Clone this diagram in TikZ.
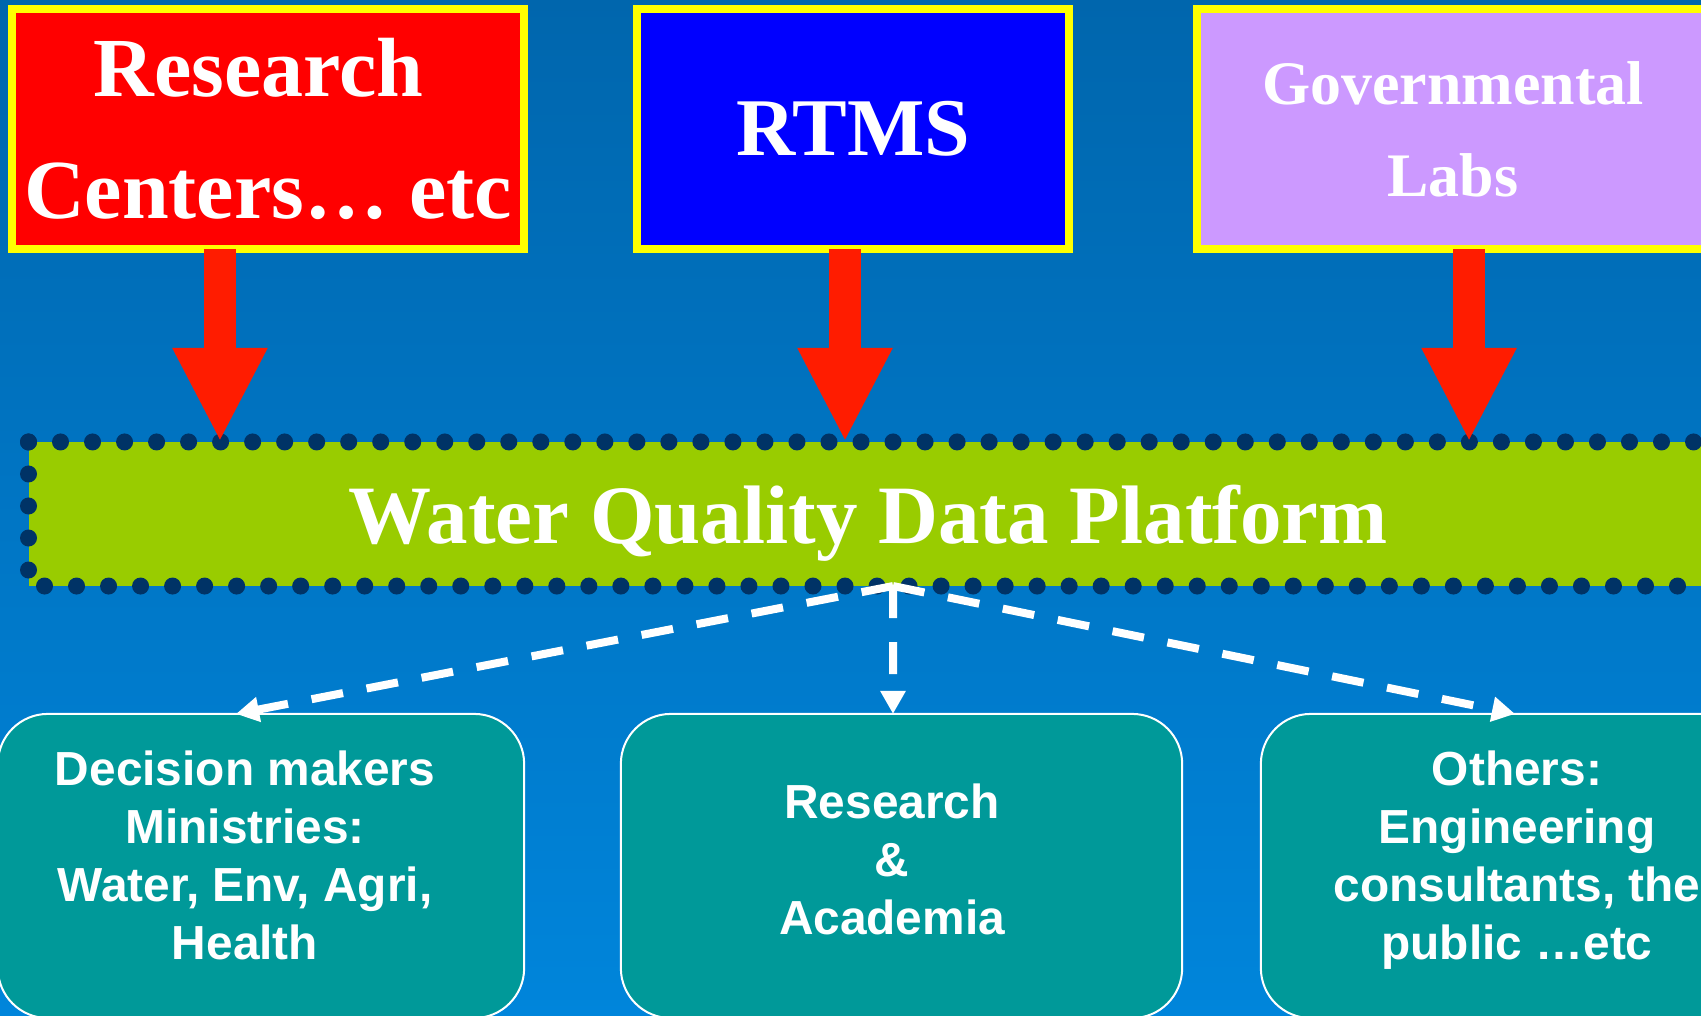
\documentclass[tikz,border=0pt]{standalone}
\usepackage{fontspec}
\setmainfont{Liberation Serif}
\setsansfont{Liberation Sans}
\usepackage{tikz}
\usetikzlibrary{positioning, arrows.meta, calc}

\definecolor{bgtop}{HTML}{0066AD}
\definecolor{bgmid}{HTML}{0069B3}
\definecolor{bgbot}{HTML}{0085DB}
\definecolor{frameyellow}{HTML}{FFFF00}
\definecolor{sourcered}{HTML}{FF0000}
\definecolor{sourceblue}{HTML}{0000FF}
\definecolor{sourcelilac}{HTML}{CC99FF}
\definecolor{feedred}{HTML}{FF1C00}
\definecolor{platgreen}{HTML}{99CC00}
\definecolor{dotnavy}{HTML}{003366}
\definecolor{userteal}{HTML}{009999}

\begin{document}
\begin{tikzpicture}[
    x=0.01cm, y=-0.01cm,
    source box/.style={rectangle, draw=frameyellow, line width=0.08cm, outer sep=0pt, inner sep=0pt, minimum height=2.4cm, text=white, align=center},
    user box/.style={rectangle, rounded corners=0.5cm, draw=white, line width=0.02cm, fill=userteal, minimum height=3.04cm, outer sep=0pt},
    user text/.style={text=white, font=\sffamily\bfseries\fontsize{13.6}{16.5}\selectfont, align=center},
    feed arrow/.style={draw=feedred, line width=0.32cm, -{Triangle[length=0.94cm, width=0.88cm]}},
    share arrow/.style={draw=white, line width=0.08cm, dash pattern=on 0.32cm off 0.24cm, -{Triangle[length=0.23cm, width=0.24cm]}},
    dot border/.style={draw=dotnavy, line width=0.17cm, line cap=round, dash pattern=on 0pt off 0.32cm}
]

% backdrop
\useasboundingbox (0,0) rectangle (1701,1016);
\shade[top color=bgtop, middle color=bgmid, bottom color=bgbot] (0,0) rectangle (1701,1016);

% data sources
\node[source box, fill=sourcered, minimum width=5.115cm, font=\bfseries\fontsize{23.9}{34.7}\selectfont] (rc) at (268,129) {Research\kern0.22em\\Centers… etc};
\node[source box, fill=sourceblue, minimum width=4.32cm, font=\bfseries\fontsize{23.3}{28}\selectfont] (rtms) at (853,129) {RTMS};
\node[source box, fill=sourcelilac, minimum width=5.12cm, font=\bfseries\fontsize{17.6}{26.2}\selectfont] (gov) at (1453,129) {Governmental\\Labs};

% platform
\node[rectangle, fill=platgreen, minimum width=16.91cm, minimum height=1.44cm, outer sep=0pt] (wq) at (874.5,514) {};
\draw[dot border] (wq.north west) -- (wq.south west) -- (wq.south east);
\draw[dot border] (wq.north west) -- (wq.north east);
\node[text=white, font=\bfseries\fontsize{23.6}{28}\selectfont, anchor=base] (wqtext) at (868,543) {Water Quality Data Platform};

% feeds into the platform
\draw[feed arrow] ([xshift=-0.48cm]rc.south) -- ([xshift=-0.48cm]rc.south |- wq.north);
\draw[feed arrow] ([xshift=-0.08cm]rtms.south) -- ([xshift=-0.08cm]rtms.south |- wq.north);
\draw[feed arrow] ([xshift=0.16cm]gov.south) -- ([xshift=0.16cm]gov.south |- wq.north);

% users
\node[user box, minimum width=5.26cm] (dec) at (261,866) {};
\node[user box, minimum width=5.61cm] (acad) at (901.5,866) {};
\node[user box, minimum width=5.61cm] (oth) at (1541.5,866) {};
\node[user text] (dectext) at (245,855) {Decision makers\\Ministries:\\Water, Env, Agri,\\Health};
\node[user text] (acadtext) at (892,859) {Research\\\&\\Academia};
\node[user text] (othtext) at (1517,860) {Others:\\Engineering\\consultants, the\\public …etc};

% sharing with users
\coordinate (hub) at ([xshift=0.185cm]wq.south);
\draw[share arrow] (hub) -- ([xshift=-0.25cm]dec.north);
\draw[share arrow] (hub) -- ([xshift=-0.085cm]acad.north);
\draw[share arrow] (hub) -- ([xshift=-0.265cm]oth.north);

\end{tikzpicture}
\end{document}
